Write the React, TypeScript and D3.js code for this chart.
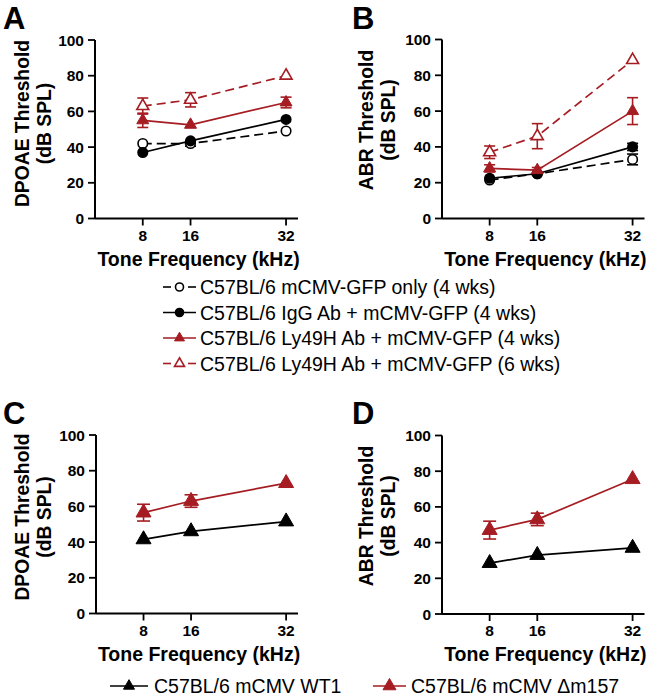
import React from "react";
import * as d3 from "d3";

// ---- data ----
const freqs = [8, 16, 32];
const xTicks = [8, 16, 32];
const yTicks = [0, 20, 40, 60, 80, 100];

// Panel A: DPOAE
const aGfpOnly = [42, 42, 49];
const aGfpOnlyErr = [0, 1.5, 0];
const aIgG = [37, 43.5, 55.5];
const aIgGErr = [0, 0, 0];
const aLy4 = [55, 52.5, 65];
const aLy4Err = [4, 0, 3];
const aLy6 = [63, 66.5, 80];
const aLy6Err = [4.5, 4, 0];

// Panel B: ABR
const bGfpOnly = [21.5, 25, 33];
const bGfpOnlyErr = [0, 0, 3];
const bIgG = [22.5, 25, 40];
const bIgGErr = [0, 0, 2];
const bLy4 = [28, 27, 60];
const bLy4Err = [2, 1.5, 7.5];
const bLy6 = [37, 46, 88.5];
const bLy6Err = [3.5, 7, 0];

// Panel C: DPOAE
const cWT1 = [41.5, 46, 51.5];
const cWT1Err = [0, 0, 0];
const cDm157 = [56.5, 63, 73];
const cDm157Err = [4.7, 3.5, 0];

// Panel D: ABR
const dWT1 = [28.5, 33, 37];
const dWT1Err = [0, 0, 0];
const dDm157 = [47, 53, 75.5];
const dDm157Err = [5, 3.5, 0];

const legendTop = [
  "C57BL/6 mCMV-GFP only (4 wks)",
  "C57BL/6 IgG Ab + mCMV-GFP (4 wks)",
  "C57BL/6 Ly49H Ab + mCMV-GFP (4 wks)",
  "C57BL/6 Ly49H Ab + mCMV-GFP (6 wks)",
];
const legendBottom = ["C57BL/6 mCMV WT1", "C57BL/6 mCMV \u0394m157"];

const RED = "#a51d23";
const BLACK = "#000";
const FONT = "'Liberation Sans', Arial, Helvetica, sans-serif";

type Style = { color: string; shape: "circle" | "triangle"; open: boolean; dashed: boolean };
type Series = { values: number[]; errs: number[]; style: Style };

const stGfpOnly: Style = { color: BLACK, shape: "circle", open: true, dashed: true };
const stIgG: Style = { color: BLACK, shape: "circle", open: false, dashed: false };
const stLy4: Style = { color: RED, shape: "triangle", open: false, dashed: false };
const stLy6: Style = { color: RED, shape: "triangle", open: true, dashed: true };
const stWT1: Style = { color: BLACK, shape: "triangle", open: false, dashed: false };
const stDm: Style = { color: RED, shape: "triangle", open: false, dashed: false };

function Marker({ x, y, style, size }: { x: number; y: number; style: Style; size: number }) {
  const fill = style.open ? "#fff" : style.color;
  if (style.shape === "circle") {
    return <circle cx={x} cy={y} r={size / 2} fill={fill} stroke={style.color} strokeWidth={1.6} />;
  }
  const area = (Math.sqrt(3) / 4) * size * size;
  const p = d3.symbol().type(d3.symbolTriangle).size(area)() as string;
  return <path d={p} transform={`translate(${x},${y})`} fill={fill} stroke={style.color} strokeWidth={style.open ? 1.6 : 1} />;
}

type PanelProps = {
  letter: string;
  letterX: number;
  letterY: number;
  xRange: [number, number];
  yRange: [number, number];
  yTitle: string;
  yTitleX1: number;
  yTitleX2: number;
  yTitleCY: number;
  series: Series[];
  circleSize: number;
  triSize: number;
  capW: number;
};

function Panel(p: PanelProps) {
  const x = d3.scaleLinear().domain([0, 34]).range(p.xRange);
  const y = d3.scaleLinear().domain([0, 100]).range(p.yRange);
  const line = d3
    .line<number>()
    .x((_, i) => x(freqs[i]))
    .y((d) => y(d));
  const x0 = p.xRange[0];
  const y0 = p.yRange[0];
  const cx = (p.xRange[0] + p.xRange[1]) / 2;
  return (
    <g>
      <text x={p.letterX} y={p.letterY} fontSize={31} fontWeight="bold" fontFamily={FONT}>
        {p.letter}
      </text>
      {/* axes */}
      <line x1={x0} x2={x0} y1={y0} y2={p.yRange[1]} stroke="#000" strokeWidth={2} />
      <line x1={x0} x2={p.xRange[1]} y1={y0} y2={y0} stroke="#000" strokeWidth={2} />
      {yTicks.map((t) => (
        <g key={"yt" + t}>
          <line x1={x0 - 7} x2={x0} y1={y(t)} y2={y(t)} stroke="#000" strokeWidth={1.8} />
          <text
            x={x0 - 11}
            y={y(t)}
            dy="0.36em"
            textAnchor="end"
            fontSize={15.5}
            fontWeight="bold"
            fontFamily={FONT}
          >
            {t}
          </text>
        </g>
      ))}
      {xTicks.map((t) => (
        <g key={"xt" + t}>
          <line x1={x(t)} x2={x(t)} y1={y0} y2={y0 + 7} stroke="#000" strokeWidth={1.8} />
          <text x={x(t)} y={y0 + 22} textAnchor="middle" fontSize={15.5} fontWeight="bold" fontFamily={FONT}>
            {t}
          </text>
        </g>
      ))}
      <text x={cx + 2} y={y0 + 47} textAnchor="middle" fontSize={19.5} fontWeight="bold" fontFamily={FONT}>
        Tone Frequency (kHz)
      </text>
      <text
        transform={`translate(${p.yTitleX1},${p.yTitleCY}) rotate(-90)`}
        textAnchor="middle"
        fontSize={19.3}
        fontWeight="bold"
        fontFamily={FONT}
      >
        {p.yTitle}
      </text>
      <text
        transform={`translate(${p.yTitleX2},${p.yTitleCY}) rotate(-90)`}
        textAnchor="middle"
        fontSize={19.3}
        fontWeight="bold"
        fontFamily={FONT}
      >
        (dB SPL)
      </text>
      {/* error bars */}
      {p.series.map((s, si) =>
        s.values.map((v, i) =>
          s.errs[i] > 0 ? (
            <g key={`e${si}-${i}`} stroke={s.style.color} strokeWidth={1.6}>
              <line x1={x(freqs[i])} x2={x(freqs[i])} y1={y(v - s.errs[i])} y2={y(v + s.errs[i])} />
              <line
                x1={x(freqs[i]) - p.capW / 2}
                x2={x(freqs[i]) + p.capW / 2}
                y1={y(v + s.errs[i])}
                y2={y(v + s.errs[i])}
              />
              <line
                x1={x(freqs[i]) - p.capW / 2}
                x2={x(freqs[i]) + p.capW / 2}
                y1={y(v - s.errs[i])}
                y2={y(v - s.errs[i])}
              />
            </g>
          ) : null
        )
      )}
      {/* lines */}
      {p.series.map((s, si) => (
        <path
          key={"l" + si}
          d={line(s.values) as string}
          fill="none"
          stroke={s.style.color}
          strokeWidth={1.7}
          strokeDasharray={s.style.dashed ? "9,5" : undefined}
        />
      ))}
      {/* markers */}
      {p.series.map((s, si) =>
        s.values.map((v, i) => (
          <Marker
            key={`m${si}-${i}`}
            x={x(freqs[i])}
            y={y(v)}
            style={s.style}
            size={s.style.shape === "circle" ? p.circleSize : p.triSize}
          />
        ))
      )}
    </g>
  );
}

function LegendSymbol({ x1, x2, cy, style, size }: { x1: number; x2: number; cy: number; style: Style; size: number }) {
  const mid = (x1 + x2) / 2;
  return (
    <g>
      {style.dashed ? (
        <g stroke={style.color} strokeWidth={1.6}>
          <line x1={x1} x2={x1 + 8} y1={cy} y2={cy} />
          <line x1={x2 - 8} x2={x2} y1={cy} y2={cy} />
        </g>
      ) : (
        <line x1={x1} x2={x2} y1={cy} y2={cy} stroke={style.color} strokeWidth={1.6} />
      )}
      <Marker x={mid} y={cy} style={style} size={size} />
    </g>
  );
}

export default function App() {
  const topStyles = [stGfpOnly, stIgG, stLy4, stLy6];
  const topBaselines = [294, 319.5, 345, 370.5];
  return (
    <svg width={650} height={696} style={{ position: "absolute", left: 0, top: 0, background: "#fff" }}>
      <rect width={650} height={696} fill="#fff" />
      <Panel
        letter="A"
        letterX={3}
        letterY={29}
        xRange={[95, 298]}
        yRange={[218.5, 40]}
        yTitle="DPOAE Threshold"
        yTitleX1={28.5}
        yTitleX2={51}
        yTitleCY={123.5}
        circleSize={9.5}
        triSize={12}
        capW={11}
        series={[
          { values: aGfpOnly, errs: aGfpOnlyErr, style: stGfpOnly },
          { values: aIgG, errs: aIgGErr, style: stIgG },
          { values: aLy4, errs: aLy4Err, style: stLy4 },
          { values: aLy6, errs: aLy6Err, style: stLy6 },
        ]}
      />
      <Panel
        letter="B"
        letterX={352}
        letterY={29}
        xRange={[442, 644.5]}
        yRange={[218.5, 39.5]}
        yTitle="ABR Threshold"
        yTitleX1={373}
        yTitleX2={395}
        yTitleCY={120}
        circleSize={9.5}
        triSize={12}
        capW={11}
        series={[
          { values: bGfpOnly, errs: bGfpOnlyErr, style: stGfpOnly },
          { values: bIgG, errs: bIgGErr, style: stIgG },
          { values: bLy4, errs: bLy4Err, style: stLy4 },
          { values: bLy6, errs: bLy6Err, style: stLy6 },
        ]}
      />
      <Panel
        letter="C"
        letterX={3}
        letterY={424}
        xRange={[96, 298]}
        yRange={[613.5, 435]}
        yTitle="DPOAE Threshold"
        yTitleX1={28.5}
        yTitleX2={51}
        yTitleCY={517}
        circleSize={9.5}
        triSize={15}
        capW={13}
        series={[
          { values: cWT1, errs: cWT1Err, style: stWT1 },
          { values: cDm157, errs: cDm157Err, style: stDm },
        ]}
      />
      <Panel
        letter="D"
        letterX={352}
        letterY={424}
        xRange={[442, 644.5]}
        yRange={[614, 435.5]}
        yTitle="ABR Threshold"
        yTitleX1={373}
        yTitleX2={395}
        yTitleCY={516}
        circleSize={9.5}
        triSize={15}
        capW={13}
        series={[
          { values: dWT1, errs: dWT1Err, style: stWT1 },
          { values: dDm157, errs: dDm157Err, style: stDm },
        ]}
      />
      {/* middle legend */}
      {legendTop.map((lab, i) => (
        <g key={"lt" + i}>
          <LegendSymbol x1={163} x2={196} cy={topBaselines[i] - 7} style={topStyles[i]} size={topStyles[i].shape === "circle" ? 8 : 10} />
          <text x={200} y={topBaselines[i]} fontSize={19.5} fontFamily={FONT}>
            {lab}
          </text>
        </g>
      ))}
      {/* bottom legend */}
      <LegendSymbol x1={110} x2={148} cy={686} style={stWT1} size={11} />
      <text x={154} y={693} fontSize={19.5} fontFamily={FONT}>
        {legendBottom[0]}
      </text>
      <LegendSymbol x1={373} x2={406} cy={686} style={stDm} size={13} />
      <text x={411} y={693} fontSize={19.5} fontFamily={FONT}>
        {legendBottom[1]}
      </text>
    </svg>
  );
}
